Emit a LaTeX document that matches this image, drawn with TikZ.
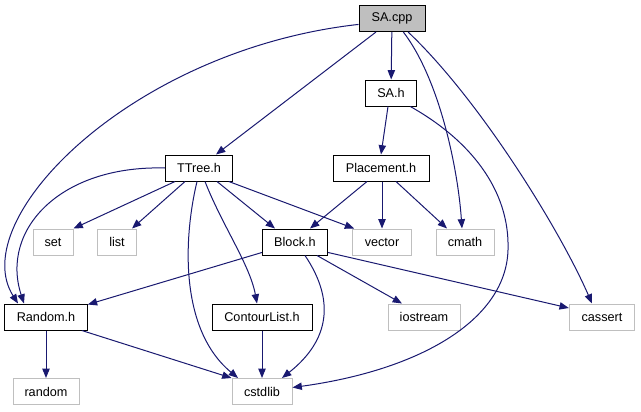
\documentclass[tikz,border=0pt]{standalone}
\usepackage{fontspec}
\setmainfont{Liberation Sans}
\usetikzlibrary{arrows.meta,calc}
\definecolor{dxEdge}{HTML}{191970}
\definecolor{dxGray}{HTML}{BFBFBF}
\definecolor{dxSys}{HTML}{BFBFBF}

\begin{document}
\begin{tikzpicture}[
      x=0.75pt,y=0.75pt,
      font=\fontsize{9.5}{11}\selectfont,
      hdr/.style={draw=black,fill=white,line width=0.75pt,minimum height=19.5pt,inner sep=0pt},
      root/.style={hdr,fill=dxGray},
      sys/.style={hdr,draw=dxSys},
      dep/.style={-{Triangle[length=7pt,width=5.5pt]},draw=dxEdge,line width=0.75pt}
    ]
    \useasboundingbox (0,0) rectangle (641,-411);

    \node[root,minimum width=49.5pt] (sacpp)     at (392,-18.5) {SA.cpp};
    \node[hdr,minimum width=38pt]    (sah)       at (391,-93)   {SA.h};
    \node[hdr,minimum width=50pt]    (ttree)     at (199,-168)  {TTree.h};
    \node[hdr,minimum width=72pt]    (placement) at (381,-168)  {Placement.h};

    \node[sys,minimum width=30pt]    (setlib)    at ( 53,-242)  {set};
    \node[sys,minimum width=29pt]    (listlib)   at (117,-242)  {list};
    \node[hdr,minimum width=49pt]    (block)     at (295,-242)  {Block.h};
    \node[sys,minimum width=44pt]    (vectorlib) at (382,-242)  {vector};
    \node[sys,minimum width=43.5pt]  (cmathlib)  at (465,-242)  {cmath};

    \node[hdr,minimum width=62pt]    (randomh)   at ( 46,-317)  {Random.h};
    \node[hdr,minimum width=75pt]    (contour)   at (262,-317)  {ContourList.h};
    \node[sys,minimum width=54pt]    (iostreamlib) at (424,-317) {iostream};
    \node[sys,minimum width=49pt]    (cassertlib)  at (602,-317) {cassert};

    \node[sys,minimum width=49.5pt]  (randomlib) at ( 46,-391.5) {random};
    \node[sys,minimum width=45pt]    (cstdlib)   at (262,-391.5) {cstdlib};

    % SA.cpp
    \draw[dep] (sacpp) -- (sah);
    \draw[dep] ($(sacpp.south)+(-16,0)$) -- ($(ttree.north)+(17,0)$);
    \draw[dep] (sacpp.190) .. controls (130,-50) and (-35,-220) .. ($(randomh.north)+(-28,0)$);
    \draw[dep] (sacpp.-50) .. controls (440,-80) and (458,-170) .. ($(cmathlib.north)+(-3,0)$);
    \draw[dep] (sacpp.-40) .. controls (480,-100) and (560,-230) .. ($(cassertlib.north)+(-10,0)$);

    % SA.h
    \draw[dep] ($(sah.south)+(-3,0)$) -- (placement.north);
    \draw[dep] (sah.-35) .. controls (470,-140) and (510,-190) .. (508,-250)
                        .. controls (506,-320) and (420,-370) .. ($(cstdlib.east)+(0,4)$);

    % TTree.h
    \draw[dep] ($(ttree.south)+(-24,0)$) -- (setlib.north east);
    \draw[dep] ($(ttree.south)+(-14,0)$) -- ($(listlib.north)+(15,0)$);
    \draw[dep] ($(ttree.south)+(-2,0)$) .. controls (183,-240) and (180,-330) .. ($(cstdlib.north)+(-24,0)$);
    \draw[dep] ($(ttree.south)+(6,0)$) .. controls (222,-225) and (250,-265) .. ($(contour.north)+(-5,0)$);
    \draw[dep] ($(ttree.south)+(18,0)$) -- ($(block.north)+(-20,0)$);
    \draw[dep] ($(ttree.south east)+(-4,0)$) -- ($(vectorlib.north west)+(2,0)$);
    \draw[dep] (ttree.west) .. controls (60,-165) and (0,-230) .. ($(randomh.north)+(-22,0)$);

    % Placement.h
    \draw[dep] ($(placement.south)+(-14,0)$) -- ($(block.north)+(15,0)$);
    \draw[dep] ($(placement.south)+(1,0)$) -- (vectorlib.north);
    \draw[dep] ($(placement.south)+(15,0)$) -- ($(cmathlib.north)+(-18,0)$);

    % Block.h
    \draw[dep] ($(block.south west)+(0,3)$) -- ($(randomh.north east)+(0,-1)$);
    \draw[dep] ($(block.south)+(10,0)$) .. controls (335,-300) and (330,-340) .. ($(cstdlib.north)+(20,0)$);
    \draw[dep] ($(block.south)+(22,0)$) -- ($(iostreamlib.north)+(-22,0)$);
    \draw[dep] ($(block.south east)+(0,3)$) -- ($(cassertlib.west)+(0,9)$);

    % Random.h, ContourList.h
    \draw[dep] (randomh) -- (randomlib);
    \draw[dep] ($(randomh.south east)+(-6,0)$) -- (cstdlib.north west);
    \draw[dep] (contour) -- (cstdlib);
  \end{tikzpicture}
\end{document}
